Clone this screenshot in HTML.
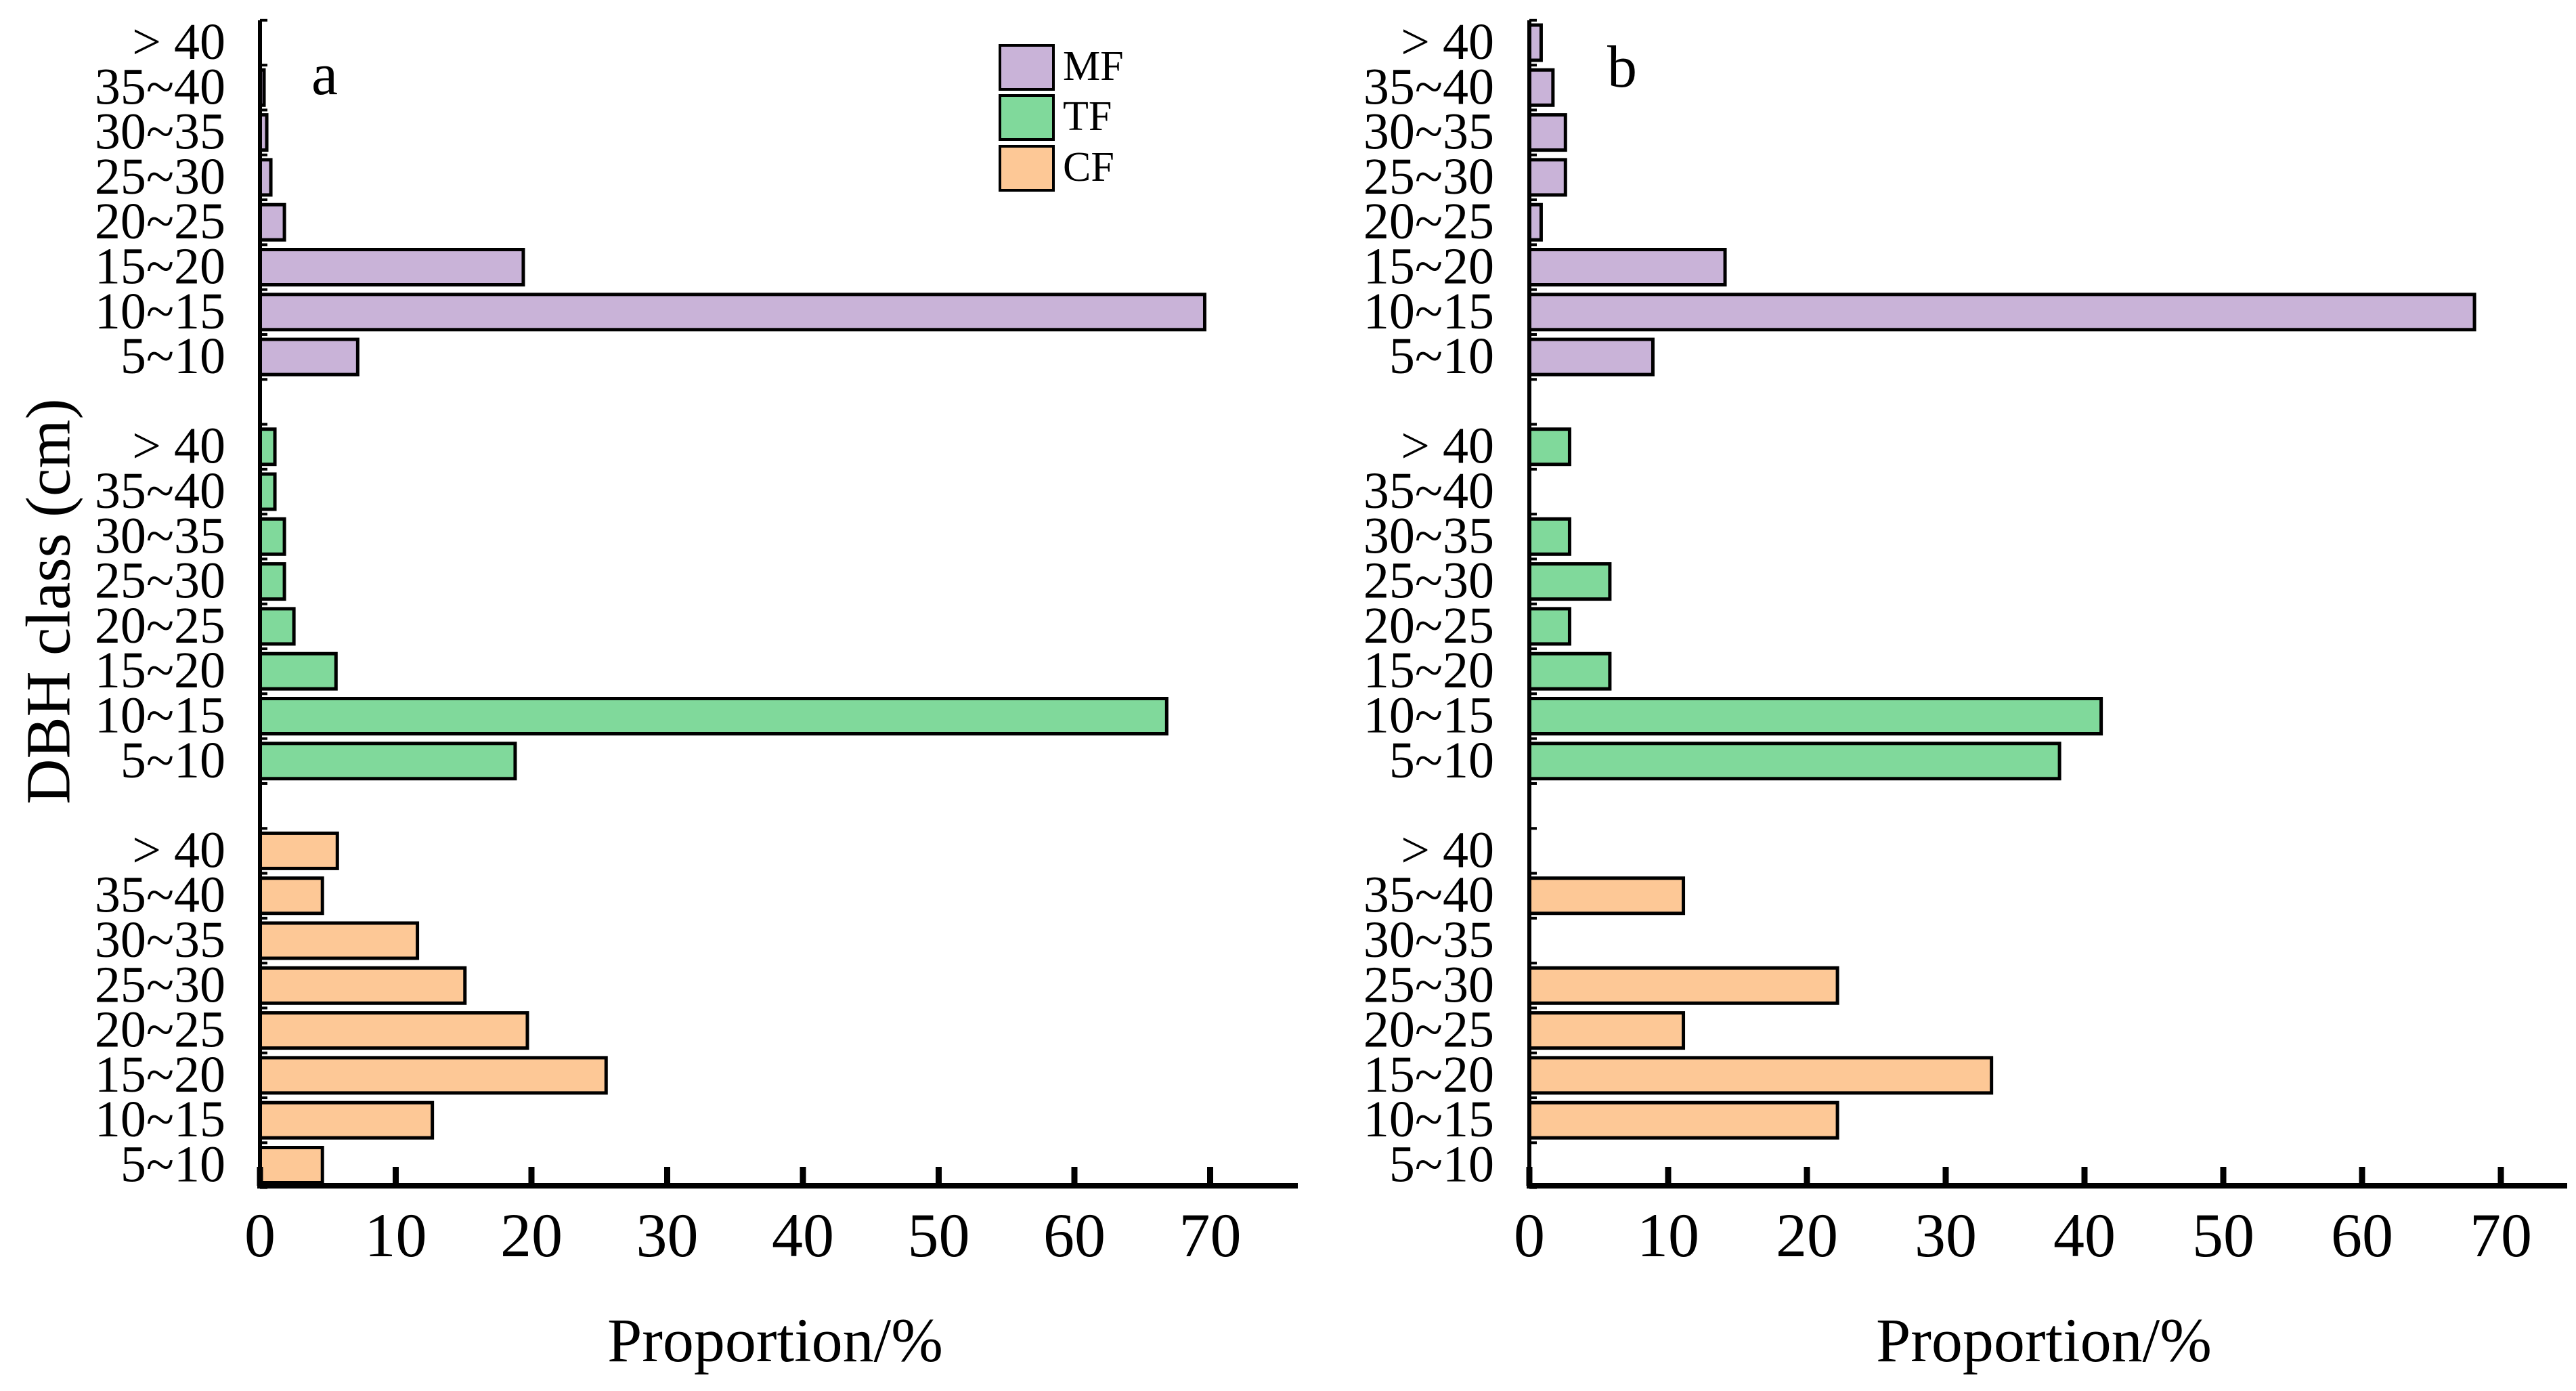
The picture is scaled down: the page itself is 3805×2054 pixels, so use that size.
<!DOCTYPE html>
<html><head><meta charset="utf-8"><style>
html,body{margin:0;padding:0;background:#fff;}
svg{display:block;}
svg text{font-family:"Liberation Serif","Times New Roman","DejaVu Serif",serif;}
</style></head><body>
<svg id="chart" width="3805" height="2054" viewBox="0 0 3805 2054" xmlns="http://www.w3.org/2000/svg">
<text x="72" y="888" font-size="93" font-family="Liberation Serif, serif" text-anchor="middle" dominant-baseline="central" transform="rotate(-90 72 888)">DBH class (cm)</text>
<g>
<rect x="1477" y="67" width="79" height="65" fill="#c9b3d8" stroke="#000" stroke-width="4"/>
<text x="1570" y="118" font-size="62" font-family="Liberation Serif, serif">MF</text>
<rect x="1477" y="141" width="79" height="65" fill="#80d99b" stroke="#000" stroke-width="4"/>
<text x="1570" y="192" font-size="62" font-family="Liberation Serif, serif">TF</text>
<rect x="1477" y="216" width="79" height="65" fill="#fdc896" stroke="#000" stroke-width="4"/>
<text x="1570" y="267" font-size="62" font-family="Liberation Serif, serif">CF</text>
</g>
<text x="460" y="139" font-size="88" font-family="Liberation Serif, serif">a</text>
<text x="2374" y="128" font-size="88" font-family="Liberation Serif, serif">b</text>
</svg>
<script>
const categories = ["> 40","35~40","30~35","25~30","20~25","15~20","10~15","5~10"];
const groups = ["MF","TF","CF"];
const xTicks = [0,10,20,30,40,50,60,70];
const aMF = [0,0.3,0.5,0.8,1.8,19.4,69.6,7.2];
const aTF = [1.1,1.1,1.8,1.8,2.5,5.6,66.8,18.8];
const aCF = [5.7,4.6,11.6,15.1,19.7,25.5,12.7,4.6];
const bMF = [0.85,1.7,2.6,2.6,0.85,14.1,68.1,8.9];
const bTF = [2.9,0,2.9,5.8,2.9,5.8,41.2,38.2];
const bCF = [0,11.1,0,22.2,11.1,33.3,22.2,0];

const NS = "http://www.w3.org/2000/svg";
const svg = document.getElementById('chart');
const colors = {MF:"#c9b3d8", TF:"#80d99b", CF:"#fdc896"};
const groupStart = {MF:0, TF:9, CF:18};
const FONT = "Liberation Serif, Times New Roman, serif";
function mk(tag, attrs){const e=document.createElementNS(NS,tag);for(const k in attrs)e.setAttribute(k,attrs[k]);svg.appendChild(e);return e;}
function slotY(slot){return 63 + 66.3*slot;}

function panel(id, x0, unit, labelRight, xEnd, titleX, series){
  const xs = v => x0 + v*unit;
  const axisY = 1751;
  groups.forEach(g => {
    const vals = series[g];
    for(let i=0;i<=categories.length;i++){
      const ty = slotY(groupStart[g]+i) - 33.15;
      const t = mk('line',{x1:x0,x2:x0+11,y1:ty,y2:ty,stroke:'#000','stroke-width':4});
      
      
    }
    categories.forEach((c,i) => {
      const cy = slotY(groupStart[g]+i);
      const lab = mk('text',{x:labelRight,y:cy+24,'font-size':76,'text-anchor':'end','font-family':FONT});
      lab.textContent = c;
      
      
      const v = vals[i];
      if(v>0){
        const r = mk('rect',{x:xs(0),y:cy-26,width:xs(v)-xs(0),height:52,fill:colors[g],stroke:'#000','stroke-width':5});
        
        
      }
    });
  });
  const ya = mk('line',{x1:x0,x2:x0,y1:30,y2:axisY,stroke:'#000','stroke-width':6});
  
  
  const xa = mk('line',{x1:x0-4,x2:xEnd,y1:axisY,y2:axisY,stroke:'#000','stroke-width':8});
  
  
  xTicks.forEach(t => {
    const tk = mk('line',{x1:xs(t),x2:xs(t),y1:1723,y2:axisY,stroke:'#000','stroke-width':9});
    
    
    const tl = mk('text',{x:xs(t),y:1855,'font-size':92,'text-anchor':'middle','font-family':FONT});
    tl.textContent = t;
    
    
  });
  const tt = mk('text',{x:titleX,y:2010,'font-size':92,'text-anchor':'middle','font-family':FONT});
  tt.textContent = 'Proportion/%';
  
  
}
panel('panel-a', 384, 20.05, 333, 1917, 1145, {MF:aMF, TF:aTF, CF:aCF});
panel('panel-b', 2259, 20.5, 2207, 3792, 3019, {MF:bMF, TF:bTF, CF:bCF});
</script>
</body></html>
